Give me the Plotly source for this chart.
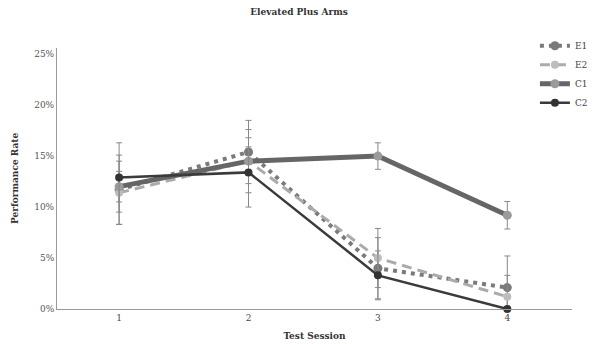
import plotly.graph_objects as go

sessions = [1, 2, 3, 4]
tick_labels = ["1", "2", "3", "4"]

e1 = [11.7, 15.4, 4.0, 2.1]
e1_err = [3.4, 3.1, 3.0, 3.1]
e2 = [11.4, 14.5, 5.0, 1.2]
e2_err = [3.1, 3.1, 2.9, 2.1]
c1 = [12.0, 14.5, 15.0, 9.2]
c1_err = [1.5, 1.4, 1.3, 1.35]
c2 = [12.9, 13.4, 3.3, 0.0]
c2_err = [3.4, 3.4, 2.4, 0.0]

y_ticks = [0, 5, 10, 15, 20, 25]
y_tick_labels = ["0%", "5%", "10%", "15%", "20%", "25%"]

FONT = "DejaVu Serif"


def err(vals, e):
    return dict(type="data", array=e, arrayminus=[min(a, v) for a, v in zip(e, vals)],
                symmetric=False, color="#888888", thickness=1, width=3)


series = [
    ("E1", e1, e1_err, dict(color="#7a7a7a", width=4, dash="4px,5px"), dict(color="#7a7a7a", size=9)),
    ("E2", e2, e2_err, dict(color="#ababab", width=3, dash="10px,6px"), dict(color="#bdbdbd", size=8)),
    ("C1", c1, c1_err, dict(color="#666666", width=5), dict(color="#9a9a9a", size=9)),
    ("C2", c2, c2_err, dict(color="#3a3a3a", width=2.5), dict(color="#333333", size=8)),
]

fig = go.Figure()
for name, vals, e, line, marker in series:
    fig.add_trace(go.Scatter(
        x=sessions, y=vals, name=name, mode="lines+markers",
        line=line, marker=marker, error_y=err(vals, e), cliponaxis=False,
    ))

fig.update_layout(
    width=614, height=344,
    margin=dict(l=49, r=50, t=40, b=43, autoexpand=False),
    paper_bgcolor="white", plot_bgcolor="white",
    font=dict(family=FONT, size=10, color="#444444"),
    title=dict(text="<b>Elevated Plus Arms</b>", x=0.474, xanchor="center",
               y=0.997, yanchor="top", font=dict(family=FONT, size=9, color="#333333")),
    showlegend=True,
    legend=dict(x=0.928, xanchor="left", y=1.064, yanchor="top",
                font=dict(family=FONT, size=9, color="#444444"),
                itemwidth=30, tracegroupgap=0, bgcolor="rgba(0,0,0,0)"),
    xaxis=dict(range=[0.52, 4.5], tickvals=sessions, ticktext=tick_labels, automargin=False,
               showgrid=False, zeroline=False, showline=True, linecolor="#999999",
               linewidth=1, ticks="", tickfont=dict(family=FONT, size=9, color="#444444"),
               title=dict(text="<b>Test Session</b>", standoff=10,
                          font=dict(family=FONT, size=9, color="#333333"))),
    yaxis=dict(range=[0, 25.6], tickvals=y_ticks, ticktext=y_tick_labels, automargin=False,
               showgrid=False, zeroline=False, showline=True, linecolor="#999999",
               linewidth=1, ticks="", tickfont=dict(family=FONT, size=9, color="#555555"),
               title=dict(text="<b>Performance Rate</b>", standoff=14,
                          font=dict(family=FONT, size=9, color="#333333"))),
)

fig.write_html("out.html")
